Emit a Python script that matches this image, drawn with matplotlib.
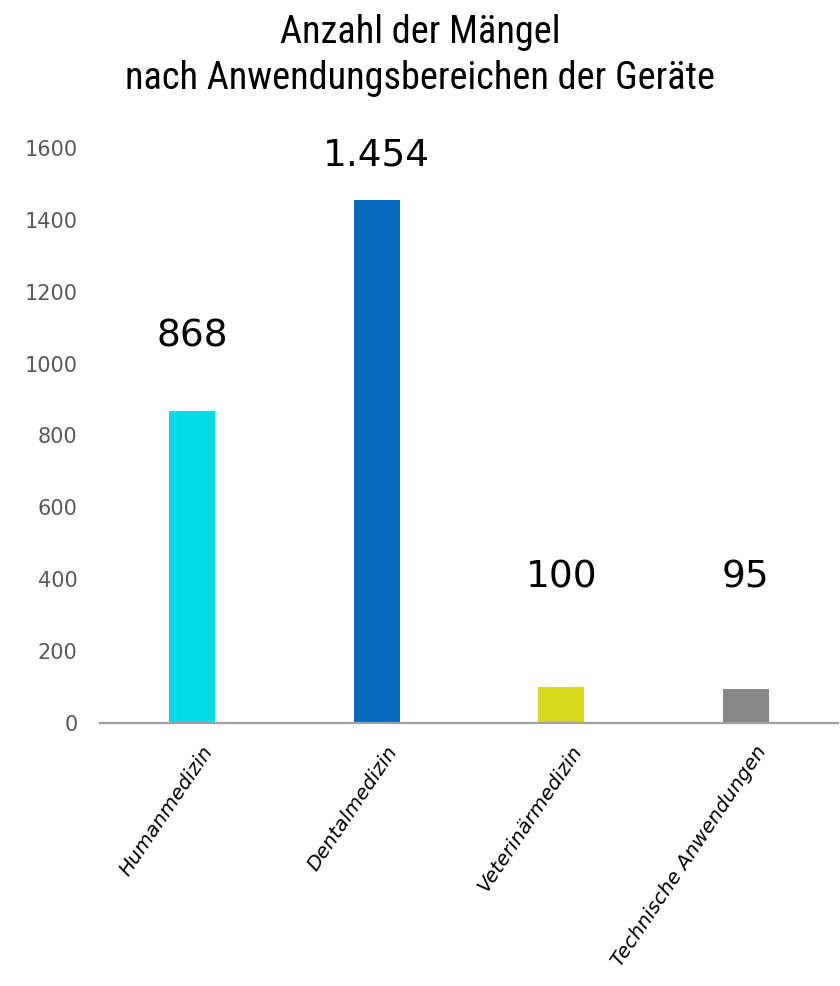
import matplotlib
matplotlib.use("Agg")
import matplotlib.pyplot as plt
import matplotlib.transforms as mtransforms
from matplotlib import font_manager

categories = ["Humanmedizin", "Dentalmedizin", "Veterinärmedizin", "Technische Anwendungen"]
values = [868, 1454, 100, 95]
value_labels = ["868", "1.454", "100", "95"]
yticks = [0, 200, 400, 600, 800, 1000, 1200, 1400, 1600]

colors = ["#00DCE6", "#0669C0", "#D8D81C", "#878787"]
label_y = [1074, 1580, 406, 406]

names = {f.name for f in font_manager.fontManager.ttflist}
title_font = None
for cand in ["Roboto Condensed", "Liberation Sans Narrow", "Roboto", "Lato"]:
    if cand in names:
        title_font = cand
        break
if title_font is None:
    title_font = "DejaVu Sans"

fig = plt.figure(figsize=(8.4, 9.86), dpi=100)
ax = fig.add_axes([0.119, 0.2667, 0.8786, 0.5833])

x = list(range(len(categories)))
ax.bar(x, values, width=0.25, color=colors, zorder=2)
ax.set_xlim(-0.5, 3.5)
ax.set_ylim(0, 1600)
ax.set_yticks(yticks)
ax.set_yticklabels([str(t) for t in yticks], fontsize=15, color="#595959", family="DejaVu Sans")
ax.tick_params(axis="y", length=0, pad=16)
ax.set_xticks(x)
ax.set_xticklabels(categories, rotation=56, ha="right", rotation_mode="anchor",
                   fontsize=14.5, style="italic", family="DejaVu Sans")
ax.tick_params(axis="x", length=0, pad=14)
offset = mtransforms.ScaledTranslation(9 / 100, 0, fig.dpi_scale_trans)
for lbl in ax.get_xticklabels():
    lbl.set_transform(lbl.get_transform() + offset)
for s in ["top", "right", "left"]:
    ax.spines[s].set_visible(False)
ax.spines["bottom"].set_color("#A0A0A0")
ax.spines["bottom"].set_linewidth(1.6)

for xi, lab, ly in zip(x, value_labels, label_y):
    ax.text(xi, ly, lab, ha="center", va="center", fontsize=27, color="black",
            family="DejaVu Sans", clip_on=False)

fig.text(0.5, 0.967, "Anzahl der Mängel", ha="center", va="center", fontsize=27.5,
         family=title_font)
fig.text(0.5, 0.920, "nach Anwendungsbereichen der Geräte", ha="center", va="center",
         fontsize=27.5, family=title_font)

fig.savefig("out.png", dpi=100)
